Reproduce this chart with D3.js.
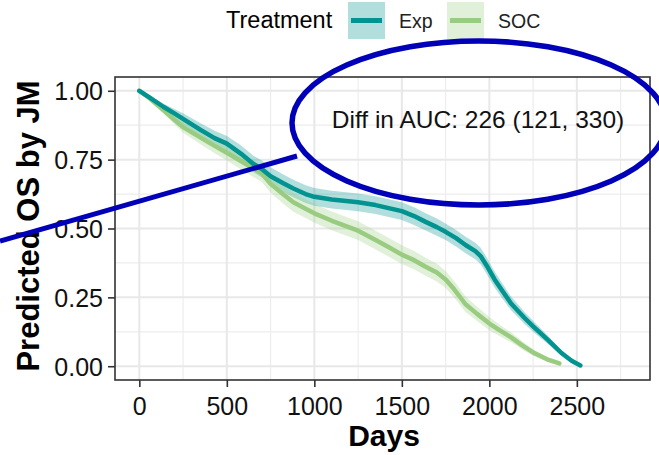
<!DOCTYPE html>
<html>
<head>
<meta charset="utf-8">
<script src="https://cdn.jsdelivr.net/npm/d3@7"></script>
<style>
  html, body { margin: 0; padding: 0; background: #fff; }
  svg { display: block; font-family: "Liberation Sans", Arial, sans-serif; }
</style>
</head>
<body>
<svg id="chart" width="659" height="455"></svg>
<script>
// ---------- data ----------
const seriesNames = ["Exp", "SOC"];
const legendTitle = "Treatment";
const xTicks = [0, 500, 1000, 1500, 2000, 2500];
const yTicks = [0, 0.25, 0.5, 0.75, 1.0];
const yTickLabels = ["0.00", "0.25", "0.50", "0.75", "1.00"];
const xTitle = "Days";
const yTitle = "Predicted OS by JM";
const annotationText = "Diff in AUC: 226 (121, 330)";

const expDays = [0, 60, 137, 200, 250, 350, 430, 500, 580, 650, 700, 750, 820, 880, 950, 1000, 1100, 1250, 1350, 1431, 1500, 1570, 1633, 1700, 1750, 1810, 1864, 1920, 1950, 1985, 2030, 2067, 2124, 2200, 2250, 2336, 2412, 2470, 2520];
const expSurv = [1.0, 0.975, 0.942, 0.918, 0.898, 0.858, 0.828, 0.808, 0.772, 0.735, 0.716, 0.690, 0.665, 0.645, 0.625, 0.615, 0.605, 0.595, 0.585, 0.573, 0.563, 0.545, 0.525, 0.505, 0.488, 0.465, 0.440, 0.418, 0.400, 0.365, 0.315, 0.280, 0.228, 0.176, 0.145, 0.095, 0.048, 0.020, 0.003];
const expCI = [0, 0.006, 0.012, 0.016, 0.02, 0.024, 0.027, 0.028, 0.03, 0.03, 0.031, 0.032, 0.032, 0.032, 0.032, 0.032, 0.032, 0.032, 0.032, 0.032, 0.032, 0.032, 0.031, 0.031, 0.03, 0.03, 0.03, 0.03, 0.03, 0.03, 0.029, 0.028, 0.025, 0.022, 0.02, 0.015, 0.01, 0.006, 0.002];

const socDays = [0, 60, 137, 200, 250, 350, 430, 500, 580, 650, 700, 750, 820, 880, 950, 1000, 1100, 1250, 1350, 1431, 1500, 1570, 1633, 1700, 1750, 1798, 1864, 1930, 2000, 2060, 2124, 2190, 2250, 2330, 2400];
const socSurv = [1.0, 0.972, 0.930, 0.895, 0.868, 0.830, 0.800, 0.775, 0.745, 0.718, 0.700, 0.662, 0.625, 0.595, 0.572, 0.555, 0.528, 0.492, 0.458, 0.430, 0.405, 0.385, 0.362, 0.340, 0.315, 0.280, 0.225, 0.190, 0.155, 0.130, 0.105, 0.075, 0.050, 0.025, 0.010];
const socCI = [0, 0.006, 0.012, 0.016, 0.02, 0.024, 0.027, 0.028, 0.03, 0.03, 0.031, 0.032, 0.033, 0.034, 0.034, 0.034, 0.034, 0.034, 0.034, 0.034, 0.034, 0.033, 0.033, 0.032, 0.031, 0.03, 0.028, 0.026, 0.024, 0.021, 0.018, 0.015, 0.012, 0.008, 0.004];

const lineColors = ["#00938f", "#99cc80"];

// ---------- layout ----------
const svg = d3.select("#chart");
const panel = { left: 115, right: 650, top: 77, bottom: 380 };

const x = d3.scaleLinear().domain([-139, 2918]).range([panel.left, panel.right]);
const y = d3.scaleLinear().domain([-0.05, 1.05]).range([panel.bottom, panel.top]);

// panel background + grid
const g = svg.append("g");
g.append("rect").attr("x", panel.left).attr("y", panel.top)
  .attr("width", panel.right - panel.left).attr("height", panel.bottom - panel.top)
  .attr("fill", "#fff");

const xMinor = d3.range(-250, 3001, 250).filter(v => v % 500 !== 0 && x(v) > panel.left && x(v) < panel.right);
const yMinor = [0.125, 0.375, 0.625, 0.875];

g.selectAll(".xminor").data(xMinor).join("line")
  .attr("x1", d => x(d)).attr("x2", d => x(d)).attr("y1", panel.top).attr("y2", panel.bottom)
  .attr("stroke", "#ededed").attr("stroke-width", 1.2);
g.selectAll(".yminor").data(yMinor).join("line")
  .attr("y1", d => y(d)).attr("y2", d => y(d)).attr("x1", panel.left).attr("x2", panel.right)
  .attr("stroke", "#ededed").attr("stroke-width", 1.2);
g.selectAll(".xmajor").data(xTicks).join("line")
  .attr("x1", d => x(d)).attr("x2", d => x(d)).attr("y1", panel.top).attr("y2", panel.bottom)
  .attr("stroke", "#e8e8e8").attr("stroke-width", 2);
g.selectAll(".ymajor").data(yTicks).join("line")
  .attr("y1", d => y(d)).attr("y2", d => y(d)).attr("x1", panel.left).attr("x2", panel.right)
  .attr("stroke", "#e8e8e8").attr("stroke-width", 2);

// series
const series = [
  { name: seriesNames[0], days: expDays, surv: expSurv, ci: expCI, color: lineColors[0] },
  { name: seriesNames[1], days: socDays, surv: socSurv, ci: socCI, color: lineColors[1] }
];

const area = d3.area()
  .x(d => x(d.t)).y0(d => y(Math.max(0, d.s - d.c))).y1(d => y(Math.min(1, d.s + d.c)));
const line = d3.line().x(d => x(d.t)).y(d => y(d.s));

series.forEach(s => {
  s.pts = s.days.map((t, i) => ({ t, s: s.surv[i], c: s.ci[i] }));
});
series.forEach(s => {
  g.append("path").datum(s.pts).attr("d", area)
    .attr("fill", s.color).attr("fill-opacity", 0.3);
});
series.slice().reverse().forEach(s => {
  g.append("path").datum(s.pts).attr("d", line)
    .attr("fill", "none").attr("stroke", s.color).attr("stroke-width", 4.5)
    .attr("stroke-linejoin", "round").attr("stroke-linecap", "round");
});

// panel border
g.append("rect").attr("x", panel.left).attr("y", panel.top)
  .attr("width", panel.right - panel.left).attr("height", panel.bottom - panel.top)
  .attr("fill", "none").attr("stroke", "#333").attr("stroke-width", 1.6);

// axes
const xAxis = d3.axisBottom(x).tickValues(xTicks).tickSize(7).tickPadding(5).tickFormat(d3.format("d"));
const yAxis = d3.axisLeft(y).tickValues(yTicks).tickSize(7).tickPadding(5).tickFormat((d, i) => yTickLabels[i]);

const gx = svg.append("g").attr("transform", `translate(0,${panel.bottom})`).call(xAxis);
const gy = svg.append("g").attr("transform", `translate(${panel.left},0)`).call(yAxis);
[gx, gy].forEach(a => {
  a.select(".domain").remove();
  a.selectAll(".tick line").attr("stroke", "#333").attr("stroke-width", 1.6);
  a.selectAll(".tick text").attr("fill", "#111").attr("font-size", 25)
    .attr("font-family", "'Liberation Sans', Arial, sans-serif");
});
gx.selectAll(".tick text").attr("dy", "0.92em");
gy.selectAll(".tick text").attr("dy", "0.36em");

// axis titles
svg.append("text").attr("x", 384).attr("y", 446).attr("text-anchor", "middle")
  .attr("font-size", 30).attr("font-weight", "bold").attr("fill", "#000").text(xTitle);
svg.append("text").attr("transform", "translate(39,226) rotate(-90)").attr("text-anchor", "middle")
  .attr("font-size", 31).attr("font-weight", "bold").attr("fill", "#000").text(yTitle);

// legend
const leg = svg.append("g");
leg.append("text").attr("x", 226).attr("y", 28).attr("font-size", 23.5).attr("fill", "#000").text(legendTitle);
const keyX = [348, 447];
const labX = [399, 498];
series.forEach((s, i) => {
  leg.append("rect").attr("x", keyX[i]).attr("y", 2).attr("width", 37).attr("height", 37)
    .attr("fill", s.color).attr("fill-opacity", 0.3);
  leg.append("line").attr("x1", keyX[i] + 3).attr("x2", keyX[i] + 34).attr("y1", 20.5).attr("y2", 20.5)
    .attr("stroke", s.color).attr("stroke-width", 5);
  leg.append("text").attr("x", labX[i]).attr("y", 28).attr("font-size", 19.5).attr("fill", "#222").text(s.name);
});

// annotation
svg.append("text").attr("x", 478).attr("y", 128).attr("text-anchor", "middle")
  .attr("font-size", 24.5).attr("fill", "#111").text(annotationText);

// blue hand-drawn highlight
svg.append("line").attr("x1", 0).attr("y1", 241).attr("x2", 297).attr("y2", 156)
  .attr("stroke", "#0000b8").attr("stroke-width", 5);
svg.append("ellipse").attr("cx", 479).attr("cy", 123).attr("rx", 187).attr("ry", 82)
  .attr("fill", "none").attr("stroke", "#0000b8").attr("stroke-width", 5.5);
</script>
</body>
</html>
